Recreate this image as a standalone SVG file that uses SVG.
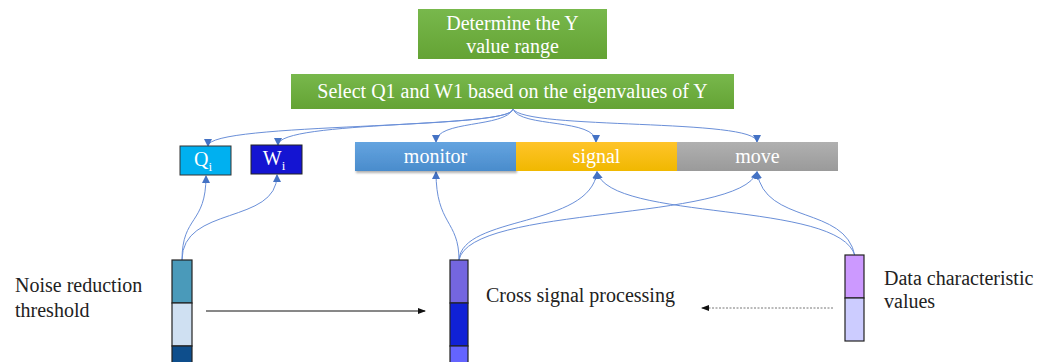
<svg xmlns="http://www.w3.org/2000/svg" width="1037" height="362" viewBox="0 0 1037 362">
<style>
text{font-family:"Liberation Serif","Times New Roman",serif}
.t{font-size:20px;fill:#222}
.w{font-size:20px;fill:#fff;text-anchor:middle}
.c{fill:none;stroke:#6a8fd8;stroke-width:1}
.seg{stroke:#222;stroke-width:1.2}
</style>
<defs>
<linearGradient id="gG" x1="0" y1="0" x2="0" y2="1"><stop offset="0" stop-color="#78b84c"/><stop offset="1" stop-color="#64a334"/></linearGradient>
<linearGradient id="gB" x1="0" y1="0" x2="0" y2="1"><stop offset="0" stop-color="#64a4e0"/><stop offset="1" stop-color="#4a8ccc"/></linearGradient>
<linearGradient id="gY" x1="0" y1="0" x2="0" y2="1"><stop offset="0" stop-color="#ffc42a"/><stop offset="1" stop-color="#f0b800"/></linearGradient>
<linearGradient id="gA" x1="0" y1="0" x2="0" y2="1"><stop offset="0" stop-color="#b0b0b0"/><stop offset="1" stop-color="#9a9a9a"/></linearGradient>
<marker id="ab" markerWidth="8" markerHeight="8" refX="7" refY="4" orient="auto" markerUnits="userSpaceOnUse"><path d="M0,0 L8,4 L0,8 Z" fill="#4472c4"/></marker>
<marker id="ak" markerWidth="8" markerHeight="8" refX="7" refY="4" orient="auto" markerUnits="userSpaceOnUse"><path d="M0,1 L8,4 L0,7 Z" fill="#111"/></marker>
<filter id="sh" x="-5%" y="-20%" width="110%" height="150%"><feDropShadow dx="1" dy="2" stdDeviation="1.2" flood-color="#000" flood-opacity="0.3"/></filter>
</defs>

<g id="connectors">
<path class="c" d="M513,109 C513,130 208,122 208,146" marker-end="url(#ab)"/>
<path class="c" d="M513,109 C513,128 278,120 278,145" marker-end="url(#ab)"/>
<path class="c" d="M513,109 C505,128 436,120 436,142" marker-end="url(#ab)"/>
<path class="c" d="M513,109 C520,128 596,118 596,142" marker-end="url(#ab)"/>
<path class="c" d="M513,109 C525,130 757,118 757,142" marker-end="url(#ab)"/>
<path class="c" d="M182,260 C182,215 206,225 206,176" marker-end="url(#ab)"/>
<path class="c" d="M182,260 C182,205 277,225 277,175" marker-end="url(#ab)"/>
<path class="c" d="M459,260 C459,220 436,225 436,172" marker-end="url(#ab)"/>
<path class="c" d="M459,260 C462,215 590,228 597,172" marker-end="url(#ab)"/>
<path class="c" d="M459,260 C470,205 740,222 757,172" marker-end="url(#ab)"/>
<path class="c" d="M855,256 C840,200 610,222 597,172" marker-end="url(#ab)"/>
<path class="c" d="M855,256 C845,205 765,225 757,172" marker-end="url(#ab)"/>
<line x1="206" y1="311" x2="425" y2="311" stroke="#111" stroke-width="1" marker-end="url(#ak)"/>
<line x1="833" y1="308" x2="702" y2="308" stroke="#777" stroke-width="1" stroke-dasharray="2,1.5" marker-end="url(#ak)"/>
</g>

<g id="range">
<rect x="418" y="9" width="189" height="50" fill="url(#gG)"/>
<text class="w" x="512.5" y="30">Determine the Y</text>
<text class="w" x="512.5" y="53">value range</text>
</g>
<g id="select">
<rect x="291" y="74" width="443" height="35" fill="url(#gG)"/>
<text class="w" x="512.5" y="98">Select Q1 and W1 based on the eigenvalues of Y</text>
</g>
<g id="qi">
<rect x="180" y="146" width="51" height="29" fill="#00b0f0" stroke="#333" stroke-width="1"/>
<text class="w" x="203" y="166">Q<tspan font-size="13" dy="5">i</tspan></text>
</g>
<g id="wi">
<rect x="251" y="145" width="51" height="29" fill="#1414d2" stroke="#222" stroke-width="1"/>
<text class="w" x="274" y="165">W<tspan font-size="13" dy="5">i</tspan></text>
</g>
<g id="monitor">
<rect x="355" y="142" width="161" height="29" fill="url(#gB)" filter="url(#sh)"/>
<text class="w" x="435.5" y="163">monitor</text>
</g>
<g id="signal">
<rect x="516" y="142" width="161" height="29" fill="url(#gY)"/>
<text class="w" x="596.5" y="163">signal</text>
</g>
<g id="move">
<rect x="677" y="142" width="161" height="29" fill="url(#gA)"/>
<text class="w" x="757.5" y="163">move</text>
</g>
<g id="noise">
<rect class="seg" x="172" y="260" width="20" height="43" fill="#4a9aba"/>
<rect class="seg" x="172" y="303" width="20" height="43" fill="#cfe0f2"/>
<rect class="seg" x="172" y="346" width="20" height="20" fill="#0e4e8c"/>
<text class="t" x="15" y="292">Noise reduction</text>
<text class="t" x="15" y="317">threshold</text>
</g>
<g id="cross">
<rect class="seg" x="450" y="260" width="18" height="43" fill="#7466e0"/>
<rect class="seg" x="450" y="303" width="18" height="43" fill="#1021d6"/>
<rect class="seg" x="450" y="346" width="18" height="20" fill="#6464ff"/>
<text class="t" x="486" y="302">Cross signal processing</text>
</g>
<g id="data">
<rect class="seg" x="845" y="255" width="19" height="43" fill="#cc99ff"/>
<rect class="seg" x="845" y="298" width="19" height="43" fill="#ccccff"/>
<text class="t" x="884" y="285">Data characteristic</text>
<text class="t" x="884" y="308">values</text>
</g>
</svg>
